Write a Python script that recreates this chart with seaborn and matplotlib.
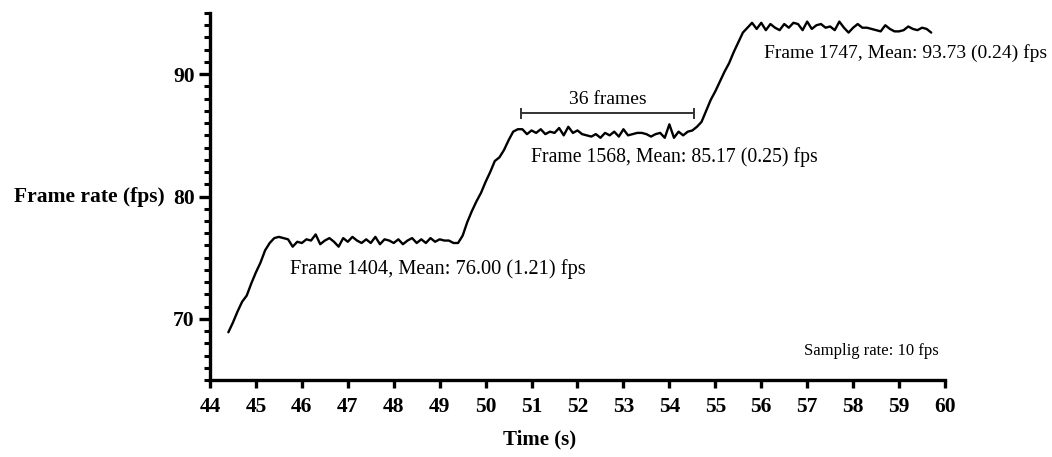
import matplotlib
matplotlib.use('Agg')
import matplotlib.pyplot as plt
from matplotlib.ticker import MultipleLocator
import seaborn as sns
import numpy as np
import pandas as pd

# frame rate samples, 10 per second starting at 44.4 s
t_start = 44.4
sample_rate = 10
fps = [
    68.9, 69.7, 70.6, 71.4, 71.9, 72.9, 73.8, 74.6, 75.6, 76.2,
    76.6, 76.7, 76.6, 76.5, 75.9, 76.3, 76.2, 76.5, 76.4, 76.9,
    76.1, 76.4, 76.6, 76.3, 75.9, 76.6, 76.3, 76.7, 76.4, 76.2,
    76.5, 76.2, 76.7, 76.1, 76.5, 76.4, 76.2, 76.5, 76.1, 76.4,
    76.6, 76.2, 76.5, 76.2, 76.6, 76.3, 76.5, 76.4, 76.4, 76.2,
    76.2, 76.8, 77.9, 78.8, 79.6, 80.3, 81.2, 82.0, 82.9, 83.2,
    83.8, 84.6, 85.3, 85.5, 85.5, 85.1, 85.4, 85.2, 85.5, 85.1,
    85.3, 85.2, 85.6, 85.0, 85.7, 85.2, 85.4, 85.1, 85.0, 84.9,
    85.1, 84.8, 85.2, 85.0, 85.3, 84.9, 85.5, 85.0, 85.1, 85.2,
    85.2, 85.1, 84.9, 85.1, 85.2, 84.8, 85.9, 84.8, 85.3, 85.0,
    85.3, 85.4, 85.7, 86.1, 87.0, 87.9, 88.6, 89.4, 90.2, 90.9,
    91.8, 92.6, 93.4, 93.8, 94.2, 93.7, 94.2, 93.6, 94.1, 93.8,
    93.6, 94.1, 93.8, 94.2, 94.1, 93.6, 94.3, 93.7, 94.0, 94.1,
    93.8, 93.9, 93.6, 94.3, 93.8, 93.4, 93.8, 94.1, 93.8, 93.8,
    93.7, 93.6, 93.5, 94.0, 93.7, 93.5, 93.5, 93.6, 93.9, 93.7,
    93.6, 93.8, 93.7, 93.4,
]

annotations = [
    'Frame 1404, Mean: 76.00 (1.21) fps',
    'Frame 1568, Mean: 85.17 (0.25) fps',
    'Frame 1747, Mean: 93.73 (0.24) fps',
]
bracket_start, bracket_end = 50.77, 54.53
bracket_label = '36 frames'

df = pd.DataFrame({'time': t_start + np.arange(len(fps)) / sample_rate, 'fps': fps})

sns.set_style('ticks', {'axes.edgecolor': 'black', 'text.color': 'black',
                        'xtick.color': 'black', 'ytick.color': 'black',
                        'axes.labelcolor': 'black'})
plt.rcParams['font.family'] = ['Liberation Serif', 'DejaVu Serif']

fig = plt.figure(figsize=(10.52, 4.57), dpi=100)
ax = fig.add_axes([0.1996, 0.1685, 0.6987, 0.803])

sns.lineplot(data=df, x='time', y='fps', ax=ax, color='black', linewidth=1.7)

ax.set_xlim(44, 60)
ax.set_ylim(65, 95)
ax.xaxis.set_major_locator(MultipleLocator(1))
ax.yaxis.set_major_locator(MultipleLocator(10))
ax.yaxis.set_minor_locator(MultipleLocator(1))
ax.set_yticks([70, 80, 90])

sns.despine(ax=ax)
for s in ['left', 'bottom']:
    ax.spines[s].set_linewidth(2.4)
ax.spines['bottom'].set_bounds(44, 60)

ax.tick_params(axis='x', which='major', length=6, width=2.4, pad=6, labelsize=15.5)
ax.tick_params(axis='y', which='major', length=8, width=2.4, pad=3, labelsize=15.5)
ax.tick_params(axis='y', which='minor', length=4.5, width=2.2)
for lab in ax.get_xticklabels() + ax.get_yticklabels():
    lab.set_fontweight('bold')

ax.set_xlabel('Time (s)', fontsize=15, fontweight='bold')
ax.xaxis.set_label_coords(0.449, -0.135)
ax.set_ylabel('Frame rate (fps)', fontsize=15.5, fontweight='bold', rotation=0,
              ha='right', va='center')
ax.yaxis.set_label_coords(-0.062, 0.5)

# annotations
ax.text(45.74, 74.1, annotations[0], fontsize=14.7, va='center')
ax.text(50.99, 83.25, annotations[1], fontsize=14.2, va='center')
ax.text(56.06, 91.7, annotations[2], fontsize=14, va='center')
ax.text(56.93, 67.4, 'Samplig rate: 10 fps', fontsize=12, va='center')

ax.plot([bracket_start, bracket_end], [86.8, 86.8], color='#333333', linewidth=1.4)
ax.vlines([bracket_start, bracket_end], 86.35, 87.25, color='#333333', linewidth=1.4)
ax.text((bracket_start + bracket_end) / 2, 87.9, bracket_label, fontsize=14,
        ha='center', va='center')

fig.savefig('out.png', dpi=100)
